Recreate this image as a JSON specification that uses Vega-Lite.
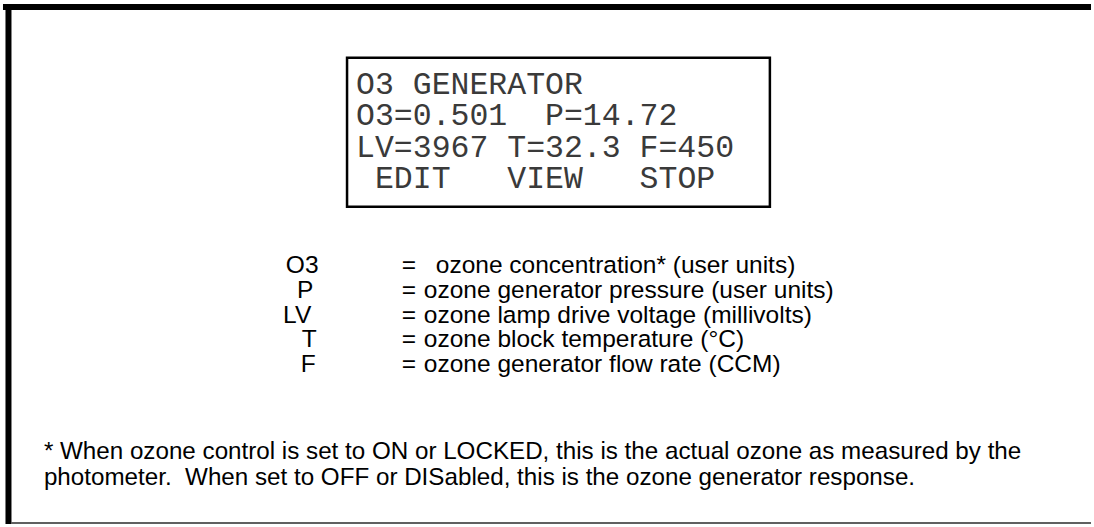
{
  "$schema": "https://vega.github.io/schema/vega-lite/v6.json",
  "width": 1094,
  "height": 527,
  "padding": 0,
  "autosize": {"type": "fit", "contains": "padding"},
  "background": "white",
  "config": {"view": {"stroke": "transparent", "strokeWidth": 0}},
  "datasets": {
    "frameThick": [
      {"part": "top", "x": 3, "x2": 1094, "y": 7, "y2": 7},
      {"part": "left", "x": 8.5, "x2": 8.5, "y": 4, "y2": 527}
    ],
    "frameThin": [
      {"part": "bottom", "x": 11, "x2": 1094, "y": 526, "y2": 526}
    ],
    "lcdBox": [
      {"x": 348, "x2": 772, "y": 58, "y2": 208}
    ],
    "lcd": [
      {"line": "O3 GENERATOR", "x": 357, "y": 85},
      {"line": "O3=0.501  P=14.72", "x": 357, "y": 117},
      {"line": "LV=3967 T=32.3 F=450", "x": 357, "y": 149},
      {"line": "EDIT   VIEW   STOP", "x": 376, "y": 180}
    ],
    "symbols": [
      {"sym": "O3", "sx": 303, "desc": "ozone concentration* (user units)", "x": 437, "y": 268},
      {"sym": "P", "sx": 306, "desc": "ozone generator pressure (user units)", "x": 425, "y": 293},
      {"sym": "LV", "sx": 298, "desc": "ozone lamp drive voltage (millivolts)", "x": 425, "y": 318},
      {"sym": "T", "sx": 310, "desc": "ozone block temperature (°C)", "x": 425, "y": 342},
      {"sym": "F", "sx": 309, "desc": "ozone generator flow rate (CCM)", "x": 425, "y": 367}
    ],
    "notes": [
      {"note": "* When ozone control is set to ON or LOCKED, this is the actual ozone as measured by the", "x": 44, "y": 455},
      {"note": "photometer.  When set to OFF or DISabled, this is the ozone generator response.", "x": 44, "y": 481}
    ]
  },
  "encoding": {
    "x": {"field": "x", "type": "quantitative", "scale": {"domain": [0, 1094], "nice": false, "zero": false}, "axis": null},
    "y": {"field": "y", "type": "quantitative", "scale": {"domain": [0, 527], "nice": false, "zero": false, "reverse": true}, "axis": null}
  },
  "layer": [
    {
      "data": {"name": "frameThick"},
      "mark": {"type": "rule", "color": "black", "strokeWidth": 6},
      "encoding": {"x2": {"field": "x2"}, "y2": {"field": "y2"}}
    },
    {
      "data": {"name": "frameThin"},
      "mark": {"type": "rule", "color": "#606060", "strokeWidth": 2},
      "encoding": {"x2": {"field": "x2"}, "y2": {"field": "y2"}}
    },
    {
      "data": {"name": "lcdBox"},
      "mark": {"type": "rect", "fill": null, "fillOpacity": 0, "stroke": "black", "strokeWidth": 2.5},
      "encoding": {"x2": {"field": "x2"}, "y2": {"field": "y2"}}
    },
    {
      "data": {"name": "lcd"},
      "transform": [{"calculate": "replace(datum.line, / /g, '\u00a0')", "as": "shown"}],
      "mark": {"type": "text", "font": "Liberation Mono", "fontSize": 31.5, "align": "left", "baseline": "middle", "color": "#3a3a3a"},
      "encoding": {"text": {"field": "shown"}}
    },
    {
      "data": {"name": "symbols"},
      "mark": {"type": "text", "font": "Liberation Sans", "fontSize": 24.5, "align": "center", "baseline": "middle", "color": "black"},
      "encoding": {"x": {"field": "sx", "type": "quantitative"}, "text": {"field": "sym"}}
    },
    {
      "data": {"name": "symbols"},
      "mark": {"type": "text", "font": "Liberation Sans", "fontSize": 24.5, "align": "center", "baseline": "middle", "color": "black"},
      "encoding": {"x": {"datum": 410}, "text": {"value": "="}}
    },
    {
      "data": {"name": "symbols"},
      "mark": {"type": "text", "font": "Liberation Sans", "fontSize": 24.5, "align": "left", "baseline": "middle", "color": "black"},
      "encoding": {"text": {"field": "desc"}}
    },
    {
      "data": {"name": "notes"},
      "transform": [{"calculate": "replace(datum.note, /  /g, ' \u00a0')", "as": "shown"}],
      "mark": {"type": "text", "font": "Liberation Sans", "fontSize": 24.2, "align": "left", "baseline": "middle", "color": "black"},
      "encoding": {"text": {"field": "shown"}}
    }
  ]
}
